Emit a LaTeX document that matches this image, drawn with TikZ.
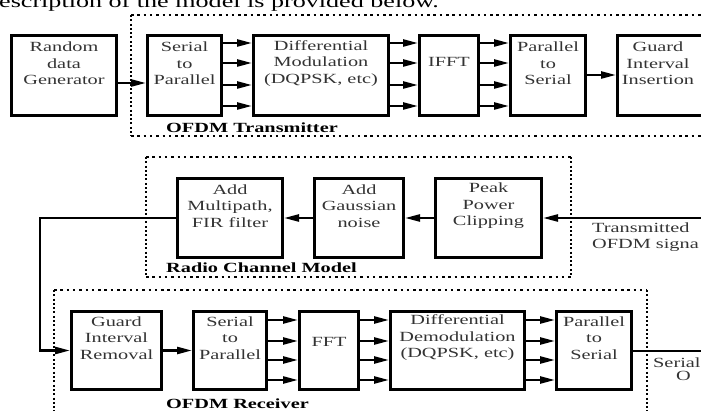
\documentclass[tikz,border=0pt]{standalone}
\usepackage{fontspec}
\setmainfont{Liberation Serif}[FakeStretch=1.45]
\usetikzlibrary{arrows.meta}
\begin{document}
\begin{tikzpicture}[x=1pt,y=-1pt,
  blk/.style={draw, line width=2.6pt, inner sep=0pt},
  txt/.style={align=center, font=\fontsize{14}{16.5}\selectfont, inner sep=0pt, text=black!80},
  lbl/.style={font=\fontsize{14}{16.5}\selectfont\bfseries, anchor=base west, inner sep=0pt},
  plain/.style={font=\fontsize{14}{16.5}\selectfont, anchor=base west, inner sep=0pt, text=black!80},
  con/.style={line width=2.4pt},
  arr/.style={con, -{Triangle[length=15pt,width=7pt]}},
  hdot/.style={line width=2.5pt, dash pattern=on 2.5pt off 3.8pt},
  vdot/.style={line width=2.5pt, dash pattern=on 2pt off 2.3pt},
]
\useasboundingbox (0,0) rectangle (701,411);
\clip (0,0) rectangle (701,411);

% intro text (cut at top)
\node[anchor=base west, font=\fontsize{18}{20}\selectfont, inner sep=0pt] (intro) at (-1,7.5) {escription of the model is provided below.};

% ---------- Transmitter ----------
\draw[hdot] (131,15) -- (705,15);
\draw[hdot] (131,136) -- (705,136);
\draw[vdot] (131,15) -- (131,136);

\node[blk, minimum width=105.4pt, minimum height=80.4pt] (rdg) at (64,75.5) {};
\node[blk, minimum width=74.4pt, minimum height=80.4pt] (s2p) at (184.5,75.5) {};
\node[blk, minimum width=135.4pt, minimum height=80.4pt] (dmod) at (321,75.5) {};
\node[blk, minimum width=59.4pt, minimum height=80.4pt] (ifft) at (449,75.5) {};
\node[blk, minimum width=75.4pt, minimum height=80.4pt] (p2s) at (548,75.5) {};
\node[blk, minimum width=87.4pt, minimum height=80.4pt] (gii) at (661,75.5) {};

\node[txt] (rdgt) at (64,63.5) {Random\\data\\Generator};
\node[txt] (s2pt) at (184.5,63.5) {Serial\\to\\Parallel};
\node[txt] (dmodt) at (321,63.5) {Differential\\Modulation\\(DQPSK, etc)};
\node[txt] (ifftt) at (449,62) {IFFT};
\node[txt] (p2st) at (548,63.5) {Parallel\\to\\Serial};
\node[txt] (giit) at (658,63.5) {Guard\\Interval\\Insertion};
\node[lbl] (txl) at (166,133) {OFDM Transmitter};

\draw[arr] (rdg.east |- 0,83) -- (s2p.west |- 0,83);
\foreach \yy in {43,63,85,106}{
  \draw[arr] (s2p.east |- 0,\yy) -- (dmod.west |- 0,\yy);
  \draw[arr] (dmod.east |- 0,\yy) -- (ifft.west |- 0,\yy);
  \draw[arr] (ifft.east |- 0,\yy) -- (p2s.west |- 0,\yy);
}
\draw[arr] (p2s.east |- 0,75) -- (gii.west |- 0,75);

% ---------- Channel ----------
\draw[hdot] (146,157) -- (571,157);
\draw[hdot] (146,277) -- (571,277);
\draw[vdot] (146,157) -- (146,277);
\draw[vdot] (571,157) -- (571,277);

\node[blk, minimum width=105.4pt, minimum height=79.4pt] (mp) at (230,218) {};
\node[blk, minimum width=89.4pt, minimum height=79.4pt] (gn) at (359,218) {};
\node[blk, minimum width=106.4pt, minimum height=79.4pt] (pk) at (488.5,218) {};

\node[txt] (mpt) at (230,206) {Add\\Multipath,\\FIR filter};
\node[txt] (gnt) at (359,206) {Add\\Gaussian\\noise};
\node[txt] (pkt) at (488.5,206) {Peak\\Power\\Clipping};
\node[lbl] (chl) at (166,273) {Radio Channel Model};

\coordinate (tin) at (703,218);
\draw[arr] (tin) -- (pk.east);
\draw[arr] (pk.west) -- (gn.east);
\draw[arr] (gn.west) -- (mp.east);
\node[plain] (tx1) at (592,233) {Transmitted};
\node[plain] (tx2) at (592,249) {OFDM signa};

\coordinate (bA) at (40,218);
\coordinate (bB) at (40,350.5);

% ---------- Receiver ----------
\draw[hdot] (54,290) -- (647,290);
\draw[vdot] (54,290) -- (54,415);
\draw[vdot] (647,290) -- (647,415);

\node[blk, minimum width=90.4pt, minimum height=78.4pt] (grm) at (116.5,350.5) {};
\node[blk, minimum width=73.4pt, minimum height=78.4pt] (rs2p) at (230,350.5) {};
\node[blk, minimum width=59.4pt, minimum height=78.4pt] (fft) at (329,350.5) {};
\node[blk, minimum width=134.4pt, minimum height=78.4pt] (ddem) at (457.5,350.5) {};
\node[blk, minimum width=75.4pt, minimum height=78.4pt] (rp2s) at (594,350.5) {};

\node[txt] (grmt) at (116.5,338) {Guard\\Interval\\Removal};
\node[txt] (rs2pt) at (230,338) {Serial\\to\\Parallel};
\node[txt] (fftt) at (329,342) {FFT};
\node[txt] (ddemt) at (457.5,338) {Differential\\Demodulation\\(DQPSK, etc)};
\node[txt] (rp2st) at (594,338) {Parallel\\to\\Serial};
\node[lbl] (rxl) at (166,408) {OFDM Receiver};

\draw[arr] (mp.west) -- (bA) -- (bB) -- (grm.west);
\draw[arr] (grm.east) -- (rs2p.west);
\foreach \yy in {320,341,360,380}{
  \draw[arr] (rs2p.east |- 0,\yy) -- (fft.west |- 0,\yy);
  \draw[arr] (fft.east |- 0,\yy) -- (ddem.west |- 0,\yy);
  \draw[arr] (ddem.east |- 0,\yy) -- (rp2s.west |- 0,\yy);
}
\coordinate (out) at (703,351);
\draw[con] (rp2s.east |- out) -- (out);
\node[plain] (so1) at (653,367) {Serial};
\node[plain] (so2) at (676,381) {O};
\end{tikzpicture}
\end{document}
